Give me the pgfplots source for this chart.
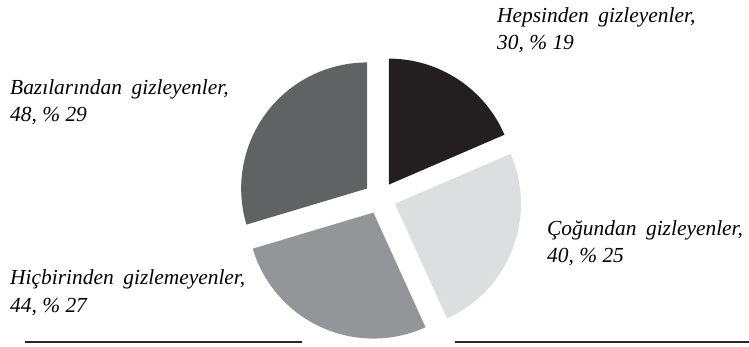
\documentclass[border=0pt]{standalone}
\usepackage{pgfplots}
\pgfplotsset{compat=1.18}
\usepackage{fontspec}
\setmainfont{Liberation Serif}
\definecolor{sA}{RGB}{35,31,32}
\definecolor{sB}{RGB}{221,222,224}
\definecolor{sC}{RGB}{148,149,153}
\definecolor{sD}{RGB}{97,98,100}
\newcommand{\gap}{\hskip 0.45em}
\tikzset{lbl/.style={font=\fontsize{21.5}{27}\selectfont\itshape, anchor=base west, inner sep=0pt}}
% values: 30, 40, 44, 48 (total 162)
\pgfmathsetmacro{\aA}{90}
\pgfmathsetmacro{\aB}{90-360*(30/162)}
\pgfmathsetmacro{\aC}{90-360*(70/162)}
\pgfmathsetmacro{\aD}{90-360*(114/162)}
\pgfmathsetmacro{\aE}{90-360*(162/162)}
\pgfmathsetmacro{\mA}{(\aA+\aB)/2}
\pgfmathsetmacro{\mB}{(\aB+\aC)/2}
\pgfmathsetmacro{\mC}{(\aC+\aD)/2}
\pgfmathsetmacro{\mD}{(\aD+\aE)/2}
% pie slice: start angle, end angle, mid angle, colour
\newcommand{\slice}[4]{%
  \fill[#4] ([shift={(#3:16bp)}]axis cs:380,149) -- ++(#1:126bp)
    arc[start angle=#1, end angle=#2, radius=126bp] -- cycle;}
\begin{document}
\begin{tikzpicture}
\begin{axis}[
  scale only axis, width=749bp, height=347bp,
  xmin=0, xmax=749, ymin=0, ymax=347,
  hide axis, clip=false,
]
\node[lbl] at (axis cs:497,324) {Hepsinden\gap gizleyenler,};
\node[lbl] at (axis cs:497,297) {30, \% 19};
\node[lbl] at (axis cs:10,252) {Bazılarından\gap gizleyenler,};
\node[lbl] at (axis cs:10,225) {48, \% 29};
\node[lbl] at (axis cs:547,111) {Çoğundan\gap gizleyenler,};
\node[lbl] at (axis cs:547,84) {40, \% 25};
\begin{scope}
\clip (axis cs:0,40) rectangle (axis cs:246,90);
\node[lbl] at (axis cs:10,62) {Hiçbirinden\gap gizlemeyenler,};
\end{scope}
\node[lbl] at (axis cs:10,34) {44, \% 27};
\slice{\aA}{\aB}{\mA}{sA}
\slice{\aB}{\aC}{\mB}{sB}
\slice{\aC}{\aD}{\mC}{sC}
\slice{\aD}{\aE}{\mD}{sD}
\draw[line width=1.6bp, black!85] (axis cs:25,5) -- (axis cs:302,5);
\draw[line width=1.6bp, black!85] (axis cs:455,5) -- (axis cs:749,5);
\end{axis}
\pgfresetboundingbox
\path[use as bounding box] (current axis.south west) rectangle (current axis.north east);
\end{tikzpicture}
\end{document}
